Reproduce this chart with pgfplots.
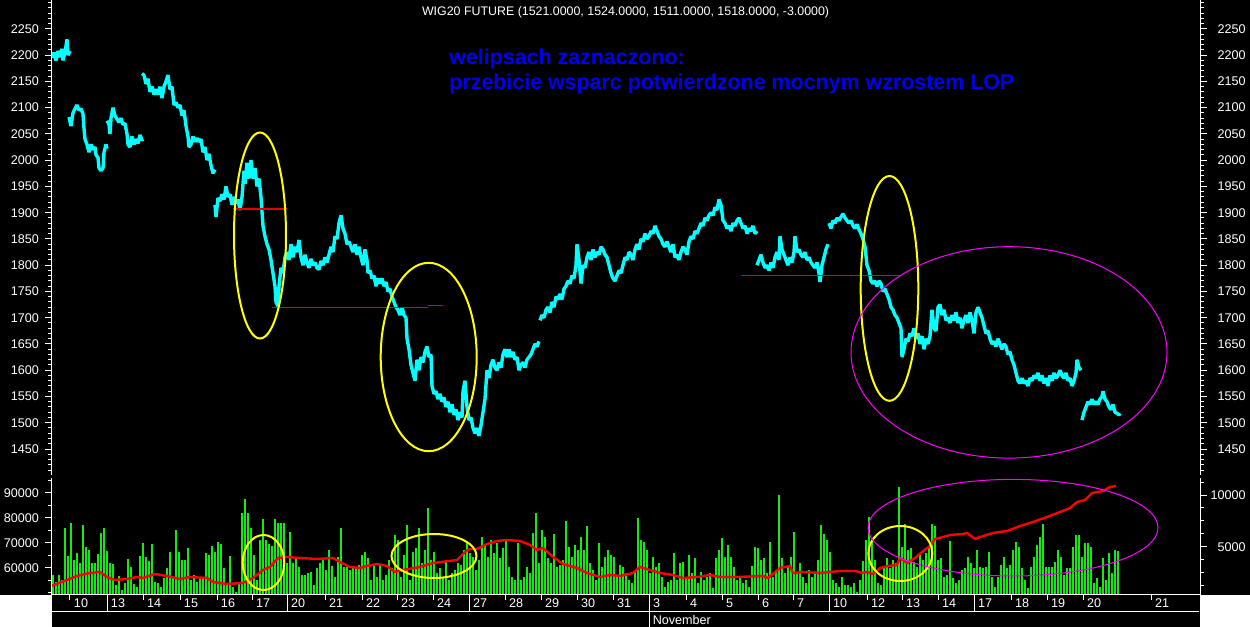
\documentclass[border=0pt]{standalone}
\usepackage{fontspec}
\setmainfont{Liberation Sans}
\usepackage{pgfplots}
\pgfplotsset{compat=1.18}
\definecolor{cCyan}{RGB}{0,255,255}
\definecolor{cGreen}{RGB}{20,235,20}
\definecolor{cRed}{RGB}{255,0,0}
\definecolor{cSup}{RGB}{230,0,0}
\definecolor{cYel}{RGB}{255,255,0}
\definecolor{cMag}{RGB}{255,0,255}
\definecolor{cBlue}{RGB}{0,0,235}
\newcommand{\tickfont}{\fontsize{6.3}{7}\selectfont}
\pgfplotsset{
  chartbase/.style={scale only axis, width=574pt, xmin=52, xmax=1200,
    axis line style={white, line width=0.5pt}, tick style={white, line width=0.5pt},
    tick align=outside, major tick length=3.5pt, minor tick length=2pt,
    tick label style={font=\tickfont, text=white},
    /pgf/number format/assume math mode=true, /pgf/number format/1000 sep={},
    scaled y ticks=false},
  px/.style={cCyan, line width=1.7pt, line join=bevel},
}
\begin{document}
\begin{tikzpicture}[x=1pt,y=1pt]
\useasboundingbox (0,0) rectangle (625,313.5);
\fill[black] (0,0) rectangle (625,313.5);
\fill[white] (0,0) rectangle (26,16);
\fill[white] (600,0) rectangle (625,16);

% price panel, left scale
\begin{axis}[chartbase, at={(26pt,76pt)}, anchor=south west, height=237.5pt,
  ymin=1400.5, ymax=2305, axis x line=none, xtick=\empty, axis y line*=left,
  ytick={1450,1500,...,2250}, minor ytick={1410,1420,...,2300},
  yticklabel style={anchor=east, inner sep=0pt, xshift=-2.8pt}]
\addplot[px] coordinates {(52,2195) (54,2205) (56,2190) (58,2208) (60,2196) (62,2212) (63,2190) (65,2205) (67,2230) (68,2200) (70,2208)};
\addplot[px] coordinates {(69,2082) (71,2065) (73,2090) (75,2098) (77,2105) (79,2095) (81,2098) (83,2088) (84,2060) (85,2040) (87,2030) (89,2015) (91,2030) (93,2020) (95,2025) (96,2010) (98,2005) (99,1985) (101,1980) (103,1985) (104,2015) (106,2030) (107,2022)};
\addplot[px] coordinates {(107,2075) (109,2068) (110,2050) (111,2080) (113,2100) (115,2085) (117,2078) (119,2072) (121,2080) (123,2068) (125,2070) (127,2050) (128,2030) (130,2025) (132,2045) (134,2030) (136,2040) (138,2032) (140,2048) (142,2038) (143,2040)};
\addplot[px] coordinates {(142,2165) (144,2162) (146,2145) (148,2155) (150,2130) (152,2140) (154,2125) (156,2135) (158,2125) (160,2140) (162,2118) (164,2140) (166,2150) (168,2162) (170,2135) (172,2140) (174,2105) (176,2110) (178,2100) (180,2105) (182,2085) (184,2095) (186,2065) (188,2045) (189,2025) (191,2030) (193,2045) (195,2035) (197,2042) (199,2035) (201,2040) (203,2015) (205,2025) (207,2000) (209,2012) (211,1990) (213,1975) (215,1982)};
\addplot[px] coordinates {(215,1915) (216,1892) (218,1928) (220,1922) (222,1935) (224,1925) (226,1950) (228,1930) (230,1935) (232,1915) (234,1930) (236,1918) (238,1925) (240,1905) (242,1930) (244,1980) (245,1955) (247,1995) (249,1965) (251,2000) (253,1965) (255,1985) (257,1950) (259,1965) (261,1930) (263,1875) (265,1855) (267,1840) (269,1830) (271,1810) (273,1785) (275,1760) (276,1730) (278,1722) (279,1760) (281,1795) (283,1785) (285,1815) (287,1825) (289,1810) (291,1840) (293,1815) (295,1835) (297,1825) (299,1848) (301,1815) (303,1800) (305,1820) (307,1805) (309,1795) (311,1812) (313,1800) (315,1805) (317,1795) (319,1792) (321,1808) (323,1800) (325,1815) (327,1805) (329,1820) (331,1835) (333,1825) (335,1855) (337,1850) (339,1880) (341,1895) (343,1870) (345,1860) (347,1840) (349,1845) (351,1835) (353,1825) (355,1840) (357,1820) (359,1835) (361,1815) (363,1800) (365,1830) (367,1810) (368,1785) (370,1790) (372,1775) (374,1780) (376,1760) (378,1775) (380,1765) (382,1775) (384,1760) (386,1768) (388,1750) (390,1755) (392,1740) (394,1730) (396,1720) (398,1715) (400,1705) (402,1720) (404,1705) (406,1700) (407,1660) (409,1640) (411,1610) (413,1595) (415,1580) (417,1620) (419,1600) (421,1625) (423,1615) (425,1635) (427,1645) (429,1625) (431,1630) (432,1570) (434,1555) (436,1560) (438,1545) (440,1555) (442,1540) (444,1548) (446,1530) (448,1540) (450,1520) (452,1535) (454,1515) (456,1525) (458,1505) (460,1520) (462,1510) (463,1560) (465,1580) (467,1530) (469,1505) (471,1510) (473,1490) (475,1480) (477,1490) (479,1475) (481,1495) (483,1520) (485,1545) (487,1600) (489,1585) (491,1610) (493,1620) (495,1605) (497,1600) (499,1615) (501,1605) (503,1630) (505,1640) (507,1625) (509,1640) (511,1625) (513,1635) (515,1620) (517,1625) (519,1600) (521,1610) (523,1615) (525,1605) (527,1620) (529,1625) (531,1630) (533,1640) (535,1650) (537,1645) (539,1655)};
\addplot[px] coordinates {(540,1695) (542,1705) (544,1700) (546,1715) (548,1720) (550,1710) (552,1730) (554,1720) (556,1740) (558,1735) (560,1745) (562,1735) (564,1755) (566,1760) (568,1770) (570,1765) (572,1780) (574,1775) (576,1800) (577,1840) (579,1810) (581,1765) (583,1800) (585,1795) (587,1815) (589,1825) (591,1810) (593,1830) (595,1815) (597,1825) (599,1820) (601,1835) (603,1830) (605,1820) (607,1815) (609,1800) (611,1785) (613,1775) (615,1770) (617,1780) (619,1790) (621,1785) (623,1800) (625,1815) (627,1810) (629,1825) (631,1820) (633,1810) (635,1830) (637,1840) (639,1830) (641,1850) (643,1845) (645,1860) (647,1850) (649,1855) (651,1865) (653,1860) (655,1875) (657,1865) (659,1855) (661,1850) (663,1840) (665,1835) (667,1845) (669,1835) (671,1825) (673,1840) (675,1815) (677,1820) (679,1810) (681,1825) (683,1835) (685,1830) (687,1820) (689,1845) (691,1855) (693,1850) (695,1865) (697,1860) (699,1870) (701,1880) (703,1875) (705,1890) (707,1885) (709,1895) (711,1900) (713,1895) (715,1910) (717,1905) (719,1925) (721,1915) (723,1885) (725,1880) (727,1870) (729,1875) (731,1865) (733,1880) (735,1875) (737,1885) (739,1890) (741,1880) (743,1870) (745,1875) (747,1860) (749,1870) (751,1865) (753,1875) (755,1860) (757,1865)};
\addplot[px] coordinates {(757,1800) (759,1810) (761,1820) (763,1805) (765,1795) (767,1800) (769,1790) (771,1805) (773,1795) (775,1815) (777,1825) (779,1810) (780,1855) (782,1830) (784,1820) (786,1810) (788,1800) (790,1815) (792,1805) (794,1825) (795,1855) (797,1825) (799,1830) (801,1820) (803,1815) (805,1825) (807,1810) (809,1815) (811,1805) (813,1800) (815,1795) (817,1805) (819,1785) (820,1768) (822,1800) (824,1815) (826,1830) (828,1840)};
\addplot[px] coordinates {(829,1880) (831,1870) (833,1885) (835,1880) (837,1890) (839,1885) (841,1892) (843,1898) (845,1890) (847,1885) (849,1880) (851,1885) (853,1875) (855,1870) (857,1878) (859,1868) (861,1860) (863,1850) (865,1835) (867,1800) (869,1790) (871,1770) (873,1765) (875,1770) (877,1760) (879,1770) (881,1765) (883,1750) (885,1755) (887,1745) (889,1735) (891,1720) (893,1715) (895,1705) (897,1700) (899,1690) (901,1680) (902,1625) (904,1640) (906,1660) (908,1655) (910,1670) (912,1665) (914,1680) (916,1660) (918,1670) (920,1650) (922,1665) (924,1640) (926,1660) (928,1650) (930,1665) (932,1715) (934,1680) (936,1675) (938,1720) (940,1725) (942,1705) (944,1715) (946,1695) (948,1700) (950,1690) (952,1705) (954,1695) (956,1710) (958,1690) (960,1700) (962,1680) (964,1695) (966,1705) (968,1690) (970,1710) (972,1695) (974,1670) (976,1710) (978,1720) (980,1710) (982,1700) (984,1685) (986,1670) (988,1675) (990,1660) (992,1650) (994,1655) (996,1645) (998,1660) (1000,1650) (1002,1640) (1004,1650) (1006,1645) (1008,1630) (1010,1635) (1012,1620) (1014,1610) (1016,1595) (1018,1580) (1020,1575) (1022,1585) (1024,1575) (1026,1580) (1028,1570) (1030,1585) (1032,1580) (1034,1590) (1036,1585) (1038,1595) (1040,1580) (1042,1590) (1044,1575) (1046,1585) (1048,1570) (1050,1590) (1052,1580) (1054,1595) (1056,1585) (1058,1590) (1060,1600) (1062,1590) (1064,1585) (1066,1595) (1068,1580) (1070,1585) (1072,1570) (1074,1580) (1076,1595) (1077,1620) (1079,1605) (1081,1600)};
\addplot[px] coordinates {(1082,1505) (1084,1520) (1086,1530) (1088,1540) (1090,1535) (1092,1545) (1094,1535) (1096,1540) (1098,1535) (1100,1545) (1102,1550) (1103,1560) (1105,1545) (1107,1540) (1109,1530) (1111,1525) (1113,1535) (1115,1520) (1117,1518) (1119,1515) (1120,1518)};
% support levels
\draw[cSup, line width=0.6pt] (axis cs:233,1907) -- (axis cs:287,1907);
\draw[cSup, line width=0.6pt] (axis cs:272,1720) -- (axis cs:428,1720);
\draw[cSup, line width=0.6pt] (axis cs:428,1723) -- (axis cs:443,1723);
\draw[cSup, line width=0.6pt] (axis cs:741,1781) -- (axis cs:900,1781);
\end{axis}

% price panel, right scale
\begin{axis}[chartbase, at={(26pt,76pt)}, anchor=south west, height=237.5pt,
  ymin=1400.5, ymax=2305, axis x line=none, xtick=\empty, axis y line*=right,
  ytick={1450,1500,...,2250}, minor ytick={1410,1420,...,2300},
  yticklabel style={anchor=east, inner sep=0pt, xshift=19.5pt}]
\end{axis}

% volume panel
\begin{axis}[chartbase, at={(26pt,16pt)}, anchor=south west, height=58.5pt,
  ymin=49200, ymax=96000, axis x line*=bottom, xtick=\empty, axis y line*=left,
  ytick={60000,70000,80000,90000}, minor ytick={50000,55000,...,95000},
  yticklabel style={anchor=east, inner sep=0pt, xshift=-2.8pt}]
\addplot[ycomb, cGreen, line width=0.6pt] coordinates {
(53,57200) (56,54500) (59,57200) (62,55200) (65,75900) (68,64800) (71,78100) (74,63200) (77,65900) (80,61900)
(83,77200) (86,68500) (89,67200) (92,61900) (95,61900) (98,65600) (101,74100) (104,76100) (107,66800) (110,62100)
(113,61600) (116,53200) (119,56800) (122,51200) (125,53900) (128,63600) (131,60500) (134,53600) (137,52500) (140,64800)
(143,70100) (146,64500) (149,62900) (152,69600) (155,54500) (158,53900) (161,52500) (164,55900) (167,59900) (170,66500)
(173,55900) (176,75200) (179,66500) (182,63200) (185,63200) (188,67900) (191,55200) (194,57200) (197,54500) (200,56500)
(203,55900) (206,65900) (209,65200) (212,68800) (215,66500) (218,70500) (221,69600) (224,59900) (227,53600) (230,64800)
(233,52500) (236,50500) (239,53900) (242,82100) (245,87600) (248,82100) (251,75900) (254,65200) (257,55200) (260,71200)
(263,79600) (266,71200) (269,69600) (272,68800) (275,79500) (278,77900) (281,78100) (284,77900) (287,61900) (290,74500)
(293,61900) (296,63900) (299,60500) (302,57200) (305,57200) (308,57900) (311,58500) (314,53200) (317,59900) (320,61900)
(323,63900) (326,59200) (329,67200) (332,60800) (335,56500) (338,64300) (341,75900) (344,60500) (347,60500) (350,59200)
(353,59900) (356,60500) (359,61200) (362,65200) (365,66500) (368,63900) (371,55200) (374,61200) (377,56500) (380,61200)
(383,55200) (386,57200) (389,63200) (392,59900) (395,73200) (398,71200) (401,56500) (404,65200) (407,77200) (410,55200)
(413,66500) (416,67900) (419,75900)
(422,61900) (425,67200) (428,83900) (431,63200) (434,66500) (437,57900) (440,59900) (443,56500) (446,63200) (449,55200)
(452,57900) (455,59200) (458,61900) (461,61200) (464,67200) (467,70500) (470,65900) (473,64500) (476,59200) (479,63200)
(482,72500) (485,68800) (488,64500) (491,71200) (494,65900) (497,69900) (500,63900) (503,67900) (506,71200) (509,60500)
(512,56500) (515,55200) (518,70100) (521,55200) (524,56500) (527,60500) (530,57900) (533,73900) (536,82100) (539,61900)
(542,75200) (545,72500) (548,63900) (551,61900) (554,73600) (557,60500) (560,61200) (563,63200) (566,78900) (569,68500)
(572,64500) (575,69200) (578,67200) (581,72500) (584,67200) (587,76800) (590,61900) (593,59200) (596,55200) (599,70100)
(602,60500) (605,64500) (608,67200) (611,65200) (614,64500) (617,56500) (620,61200) (623,60500) (626,57900) (629,55200)
(632,53900) (635,59200) (638,79900) (641,71200) (644,70500) (647,67200) (650,57900) (653,64500) (656,60500) (659,61900)
(662,56500) (665,52500) (668,54500) (671,55200) (674,65900) (677,55200) (680,61900) (683,62500) (686,56500) (689,65200)
(692,57900) (695,63900) (698,53900) (701,58500) (704,55200) (707,56500) (710,57900) (713,51900) (716,63900) (719,67200)
(722,71900) (725,64500) (728,69200) (731,64500) (734,60500) (737,55200) (740,56500) (743,53900) (746,55200) (749,52500)
(752,60800) (755,68500) (758,67900) (761,63200) (764,63900) (767,57900) (770,70500) (773,56500) (776,59200) (779,89200)
(782,63900) (785,57900) (788,60500) (791,64500) (794,74500) (797,57900) (800,61900) (803,56500) (806,53900) (809,59200)
(812,56500) (815,57900) (818,63200) (821,77200) (824,73600) (827,71200) (830,66500) (833,55200) (836,53900) (839,52500)
(842,56500) (845,53200) (848,53200) (851,52500) (854,53900) (857,50500) (860,55200) (863,62900) (866,71200) (869,80500)
(872,70500) (875,63200) (878,53900) (881,53200) (884,59900) (887,63900) (890,59900) (893,63200) (896,61900) (899,92500)
(902,68500) (905,77600) (908,67200) (911,67900) (914,62500) (917,60500) (920,65900) (923,63200) (926,65900) (929,67900)
(932,77600) (935,76800) (938,63200) (941,63900) (944,56500) (947,57200) (950,70900) (953,55900) (956,53900) (959,55200)
(962,59200) (965,59900) (968,64500) (971,61900) (974,59900) (977,67200) (980,60500) (983,59900) (986,60500) (989,66500)
(992,56500) (995,52500) (998,56500) (1001,61200) (1004,64500) (1007,59900) (1010,61200) (1013,67200) (1016,70500) (1019,68500)
(1022,59900) (1025,55200) (1028,51900) (1031,60500) (1034,64500) (1037,69200) (1040,72500) (1043,77600) (1046,60500) (1049,60500)
(1052,60500) (1055,62500) (1058,67200) (1061,64500) (1064,57200) (1067,59900) (1070,59900) (1073,68500) (1076,73200) (1079,73200)
(1082,64500) (1085,69900) (1088,69900) (1091,68500) (1094,53900) (1097,55900) (1100,52500) (1103,63900) (1106,55200) (1109,65900)
(1112,57900) (1115,67200) (1118,66900)};
\end{axis}

% open interest, right scale
\begin{axis}[chartbase, at={(26pt,16pt)}, anchor=south west, height=58.5pt,
  ymin=324, ymax=11650, axis x line=none, xtick=\empty, axis y line*=right,
  ytick={5000,10000}, minor ytick={1250,2500,...,11250},
  yticklabel style={anchor=east, inner sep=0pt, xshift=19.5pt}]
\addplot[cRed, line width=1.2pt] coordinates {(52,1225) (67,1777) (77,2164) (90,2454) (100,2551) (107,2067) (115,1777) (127,1873) (137,2067) (143,1970) (155,2357) (167,2164) (180,1873) (190,2067) (207,1970) (213,1583) (227,1390) (243,1486) (253,1970) (263,2744) (270,3035) (278,3906) (287,4003) (300,3906) (317,3809) (333,3906) (340,3519) (350,3035) (360,2938) (367,3132) (377,3325) (387,3132) (395,2551) (403,2744) (420,3035) (433,3422) (457,3713) (465,4487) (470,4777) (477,4777) (487,5261) (497,5552) (507,5648) (520,5552) (530,5165) (537,4681) (543,4874) (553,4003) (563,3325) (577,2938) (587,2454) (600,2067) (610,2261) (620,2164) (633,2454) (640,3035) (650,2744) (660,2454) (673,2261) (683,1970) (697,2067) (710,2261) (720,2067) (737,2067) (763,2164) (768,1970) (780,2938) (790,3132) (793,2454) (803,2551) (820,2454) (840,2648) (855,2648) (862,2454) (867,2551) (873,2357) (880,2938) (888,3132) (897,3229) (900,3906) (907,3422) (915,3906) (922,4487) (930,5068) (935,5745) (943,5939) (950,6132) (963,6229) (967,6326) (975,5745) (980,5939) (993,6326) (1007,6520) (1020,7003) (1033,7390) (1047,7875) (1060,8358) (1070,8745) (1077,9326) (1085,9519) (1092,10197) (1103,10390) (1110,10777) (1116,10874)};
\end{axis}

% date axis: day ticks
\begin{axis}[chartbase, at={(26pt,16pt)}, anchor=south west, height=58.5pt,
  ymin=0, ymax=1, hide y axis, axis x line*=bottom, major tick length=2.5pt,
  xtick={70,143,180,217,252,325,362,397,433,505,541,577,613,686,722,758,793,867,902,938,1011,1047,1083,1151},
  xticklabels={10,14,15,16,17,21,22,23,24,28,29,30,31,4,5,6,7,12,13,14,18,19,20,21},
  xticklabel style={anchor=base west, inner sep=0pt, xshift=1.8pt, yshift=-4pt}]
\end{axis}
% date axis: week separators
\begin{axis}[chartbase, at={(26pt,16pt)}, anchor=south west, height=58.5pt,
  ymin=0, ymax=1, hide y axis, axis x line*=bottom, major tick length=8.5pt,
  xtick={107,287,469,649,829,974},
  xticklabels={13,20,27,3,10,17},
  xticklabel style={anchor=base west, inner sep=0pt, xshift=1.8pt, yshift=2pt}]
\end{axis}

\draw[white, line width=0.5pt] (26,7.5) -- (599.5,7.5);
\draw[white, line width=0.5pt] (324.5,7.5) -- (324.5,0);
\node[anchor=base west, inner sep=0pt, text=white, font=\tickfont] at (326.2,1) {November};

% annotations
\node[anchor=base, inner sep=0pt, text=white, font=\fontsize{6.2}{7}\selectfont] at (312.8,305.8) {WIG20 FUTURE (1521.0000, 1524.0000, 1511.0000, 1518.0000, -3.0000)};
\node[anchor=base west, inner sep=0pt, text=cBlue, font=\fontsize{10.7}{12}\selectfont\bfseries] at (224.5,281) {welipsach zaznaczono:};
\node[anchor=base west, inner sep=0pt, text=cBlue, font=\fontsize{10.7}{12}\selectfont\bfseries] at (224.5,268.5) {przebicie wsparc potwierdzone mocnym wzrostem LOP};

\draw[cYel, line width=1pt] (130,195.75) ellipse [x radius=13, y radius=51.5];
\draw[cYel, line width=1pt] (214.35,135) ellipse [x radius=24, y radius=47.1];
\draw[cYel, line width=1pt] (444.75,169.3) ellipse [x radius=14.4, y radius=56.2];
\draw[cMag, line width=0.5pt] (504.5,137.3) ellipse [x radius=79, y radius=52.85];
\draw[cYel, line width=1pt] (131.75,32.25) ellipse [x radius=10.4, y radius=13.75];
\draw[cYel, line width=1pt] (217,35.5) ellipse [x radius=21.25, y radius=11];
\draw[cYel, line width=1pt] (450.15,36.75) ellipse [x radius=16, y radius=13.75];
\draw[cMag, line width=0.5pt] (506.5,49.65) ellipse [x radius=72.5, y radius=24.15];
\end{tikzpicture}
\end{document}
